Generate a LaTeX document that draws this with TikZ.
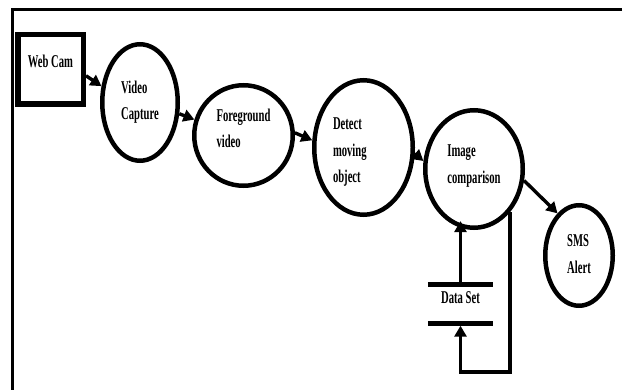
\documentclass[tikz,border=0pt]{standalone}
\usepackage{fontspec}
\setmainfont{Liberation Serif}[FakeStretch=0.59]
\usetikzlibrary{arrows.meta,shapes.geometric}

\begin{document}
\begin{tikzpicture}[x=1pt,y=-1pt,font=\fontsize{18}{26.5}\selectfont\bfseries,
    pnode/.style={draw,ellipse,line width=4.5pt,inner sep=0pt,align=left,text depth=4pt},
    flow/.style={line width=3.4pt,-{Triangle[length=11pt,width=12pt]}}]
    \useasboundingbox (0,0) rectangle (623,390);
    \draw[line width=3pt] (622,10) -- (12,10) -- (12,390);

    \node[draw,line width=5.5pt,inner xsep=0pt,inner ysep=5pt,minimum width=65.5pt,text height=28.25pt,text depth=31.25pt] (cam) at (50.5,69.5) {Web Cam};
    \node[pnode,minimum width=75.5pt,minimum height=116.5pt,text height=39pt] (cap) at (140,102.5) {Video\\Capture};
    \node[pnode,minimum width=98.5pt,minimum height=100.5pt,text height=29pt] (fg) at (243.5,135.5) {Foreground\\video};
    \node[pnode,minimum width=98.5pt,minimum height=134.5pt,text width=61pt,text height=12pt,text depth=47pt] (det) at (363.5,147.5) {Detect\\moving\\object};
    \node[pnode,minimum width=97.5pt,minimum height=117.5pt,text height=32pt] (img) at (474,169) {Image\\comparison};
    \node[pnode,minimum width=67.5pt,minimum height=100.5pt,text height=39pt] (sms) at (579,255.5) {SMS\\Alert};
    \node[inner sep=0pt,minimum width=65pt,minimum height=38pt,text height=10pt,text depth=12pt] (ds) at (460.5,304) {Data Set};
    \coordinate (lp) at (0,372);

    \draw[line width=5pt] (ds.north west) -- (ds.north east) (ds.south west) -- (ds.south east);

    \draw[flow] (cam.-10) -- (cap.157);
    \draw[flow] (cap.-16) -- (fg.162);
    \draw[flow] (fg.3) -- (det.172);
    \draw[flow] (det.-7) -- (img.171);
    \draw[flow] (img.-13) -- (sms.117);
    \draw[flow,shorten >=-6pt] (ds.north) -- (ds.north |- img.255);
    \draw[flow,shorten >=2.5pt] (img.-50) -- (img.-50 |- lp) -| (ds.south);
\end{tikzpicture}
\end{document}
